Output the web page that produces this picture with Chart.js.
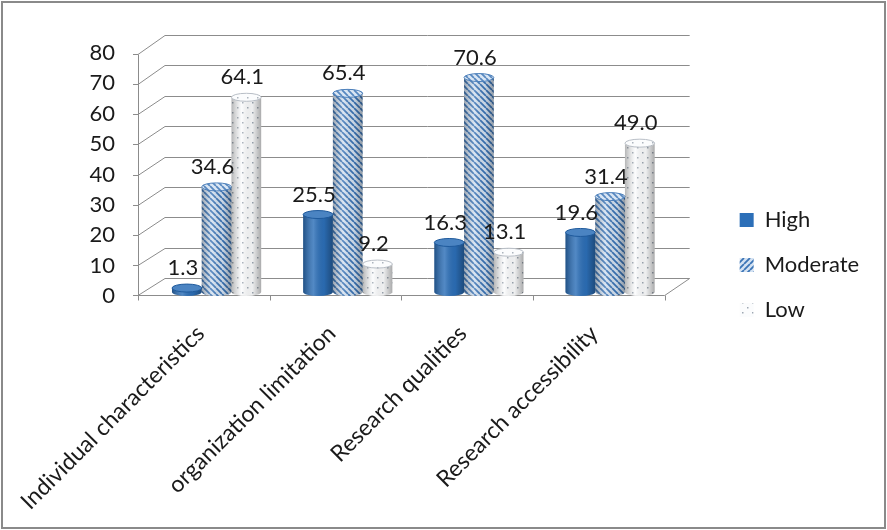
<!DOCTYPE html>
<html><head><meta charset="utf-8">
<script src="https://cdn.jsdelivr.net/npm/chart.js@4.4.0/dist/chart.umd.min.js"></script>
<style>html,body{margin:0;padding:0;background:#fff;}canvas{display:block}</style>
</head><body>
<canvas id="c" width="887" height="530"></canvas>
<script>
const categories = ['Individual characteristics', 'organization limitation', 'Research qualities', 'Research accessibility'];
const seriesNames = ['High', 'Moderate', 'Low'];
const high = [1.3, 25.5, 16.3, 19.6];
const moderate = [34.6, 65.4, 70.6, 31.4];
const low = [64.1, 9.2, 13.1, 49.0];
const yMin = 0, yMax = 80, yStep = 10;

const FONT = 'Lato, "Open Sans", sans-serif';
const canvas = document.getElementById('c');
const mainCtx = canvas.getContext('2d');

function stripePattern(up) {
  const c = document.createElement('canvas'); c.width = 6; c.height = 6;
  const g = c.getContext('2d');
  g.fillStyle = '#d4e2f2'; g.fillRect(0, 0, 6, 6);
  g.strokeStyle = '#3b74b6'; g.lineWidth = 1.8; g.beginPath();
  for (let k = -6; k <= 12; k += 6) {
    if (up) { g.moveTo(k, 6); g.lineTo(k + 6, 0); } else { g.moveTo(k, 0); g.lineTo(k + 6, 6); }
  }
  g.stroke();
  return mainCtx.createPattern(c, 'repeat');
}
function dotPattern() {
  const c = document.createElement('canvas'); c.width = 10; c.height = 10;
  const g = c.getContext('2d');
  g.fillStyle = '#fbfcfd'; g.fillRect(0, 0, 10, 10);
  g.fillStyle = '#9ea7b3';
  g.fillRect(2, 2, 1.5, 1.5); g.fillRect(7, 7, 1.5, 1.5);
  return mainCtx.createPattern(c, 'repeat');
}
const fills = ['#2c6fb8', stripePattern(false), dotPattern()];
const legendFills = ['#2c6fb8', stripePattern(true), dotPattern()];
const edgeCols = ['#1f5a9c', '#4d80bb', '#b8bec6'];

const wallPlugin = {
  id: 'wall',
  beforeDatasetsDraw(chart) {
    const ctx = chart.ctx, y = chart.scales.y, a = chart.chartArea;
    const fx = a.left - 13, bx = a.left + 14, brx = a.right + 14, frx = a.right - 11;
    ctx.save();
    ctx.strokeStyle = '#8c8c8c'; ctx.lineWidth = 1;
    for (let v = yMin; v <= yMax; v += yStep) {
      const p = y.getPixelForValue(v);
      const fy = Math.round(p + 3 + 2 * (v / yMax)) + 0.5, by = Math.round(p - 14) + 0.5;
      ctx.beginPath();
      ctx.moveTo(fx, fy); ctx.lineTo(bx, by); ctx.lineTo(brx, by);
      ctx.stroke();
      ctx.beginPath(); ctx.moveTo(fx - 5, fy); ctx.lineTo(fx, fy); ctx.stroke();
    }
    const y0f = Math.round(y.getPixelForValue(0) + 3) + 0.5;
    const y0b = Math.round(y.getPixelForValue(0) - 14) + 0.5;
    const ytf = Math.round(y.getPixelForValue(yMax) + 5) + 0.5;
    ctx.beginPath(); ctx.moveTo(Math.round(fx) + 0.5, ytf); ctx.lineTo(Math.round(fx) + 0.5, y0f); ctx.stroke();
    ctx.beginPath(); ctx.moveTo(fx, y0f); ctx.lineTo(frx, y0f); ctx.lineTo(brx, y0b); ctx.stroke();
    const step = (frx - fx) / categories.length;
    for (let i = 0; i <= categories.length; i++) {
      const tx = Math.round(fx + i * step) + 0.5;
      ctx.beginPath(); ctx.moveTo(tx, y0f); ctx.lineTo(tx, y0f + 5); ctx.stroke();
    }
    ctx.restore();
  },
  afterDatasetsDraw(chart) {
    const ctx = chart.ctx;
    ctx.save();
    chart.data.datasets.forEach((ds, di) => {
      chart.getDatasetMeta(di).data.forEach((el, i) => {
        const w = el.width, l = el.x - w / 2, r = el.x + w / 2, t = el.y, b = el.base;
        const ry = 4;
        ctx.fillStyle = fills[di];
        ctx.beginPath(); ctx.ellipse(el.x, b, w / 2, ry, 0, 0, Math.PI); ctx.fill();
        const g = ctx.createLinearGradient(l, 0, r, 0);
        g.addColorStop(0, 'rgba(0,0,0,0.28)');
        g.addColorStop(0.35, 'rgba(255,255,255,0.18)');
        g.addColorStop(0.7, 'rgba(0,0,0,0.05)');
        g.addColorStop(1, 'rgba(0,0,0,0.32)');
        ctx.fillStyle = g;
        ctx.beginPath(); ctx.moveTo(l, t); ctx.lineTo(l, b); ctx.ellipse(el.x, b, w / 2, ry, 0, Math.PI, 0, true); ctx.lineTo(r, t); ctx.closePath(); ctx.fill();
        ctx.fillStyle = fills[di];
        ctx.beginPath(); ctx.ellipse(el.x, t, w / 2, ry, 0, 0, Math.PI * 2); ctx.fill();
        ctx.fillStyle = 'rgba(255,255,255,0.15)'; ctx.fill();
        ctx.strokeStyle = edgeCols[di]; ctx.lineWidth = 1; ctx.stroke();
        ctx.fillStyle = '#1a1a1a'; ctx.font = '22px ' + FONT;
        ctx.textAlign = 'center'; ctx.textBaseline = 'middle';
        ctx.fillText(ds.data[i].toFixed(1), el.x - 4, t - 20);
      });
    });
    ctx.restore();
  },
  afterDraw(chart) {
    const ctx = chart.ctx;
    ctx.save(); ctx.strokeStyle = '#8a8a8a'; ctx.lineWidth = 2;
    ctx.strokeRect(2, 2, chart.width - 4, chart.height - 4); ctx.restore();
  }
};

const spacerAxis = (pos, size) => ({
  type: 'linear', position: pos, display: true,
  grid: { display: false, drawTicks: false }, border: { display: false },
  ticks: { display: false },
  afterFit(s) { if (pos === 'top') { s.height = size; } else { s.width = size; } s.paddingLeft = s.paddingRight = s.paddingTop = s.paddingBottom = 0; }
});

new Chart(canvas, {
  type: 'bar',
  data: {
    labels: categories,
    datasets: [
      { label: seriesNames[0], data: high, backgroundColor: fills[0], borderWidth: 0 },
      { label: seriesNames[1], data: moderate, backgroundColor: fills[1], borderWidth: 0 },
      { label: seriesNames[2], data: low, backgroundColor: fills[2], borderWidth: 0 }
    ]
  },
  options: {
    responsive: false,
    animation: false,
    devicePixelRatio: 1,
    categoryPercentage: 0.68,
    barPercentage: 1,
    layout: { padding: { top: 8, bottom: 8, left: 0, right: 27 } },
    plugins: {
      legend: {
        position: 'right',
        labels: {
          boxWidth: 14, boxHeight: 14, padding: 23, color: '#1a1a1a', font: { family: FONT, size: 22 },
          generateLabels(chart) {
            const items = Chart.defaults.plugins.legend.labels.generateLabels(chart);
            items.forEach((it, k) => { it.fillStyle = legendFills[k]; it.lineWidth = 0; });
            return items;
          }
        }
      },
      tooltip: { enabled: false }
    },
    scales: {
      x: {
        grid: { display: false, drawTicks: false }, border: { display: false },
        ticks: { minRotation: 45, maxRotation: 45, autoSkip: false, padding: 28, labelOffset: -16, color: '#1a1a1a', font: { family: FONT, size: 23 } },
        afterFit(s) { s.height = 230; s.paddingLeft = 0; s.paddingRight = 0; }
      },
      y: {
        min: yMin, max: yMax,
        grid: { display: false, drawTicks: false }, border: { display: false },
        ticks: { stepSize: yStep, padding: 36, labelOffset: 4, color: '#1a1a1a', font: { family: FONT, size: 22 } },
        afterFit(s) { s.width = 151; s.paddingTop = 0; s.paddingBottom = 0; }
      },
      spacerTop: Object.assign(spacerAxis('top', 41), { type: 'category' }),
      spacerRight: spacerAxis('right', 41)
    }
  },
  plugins: [wallPlugin]
});
</script>
</body></html>
